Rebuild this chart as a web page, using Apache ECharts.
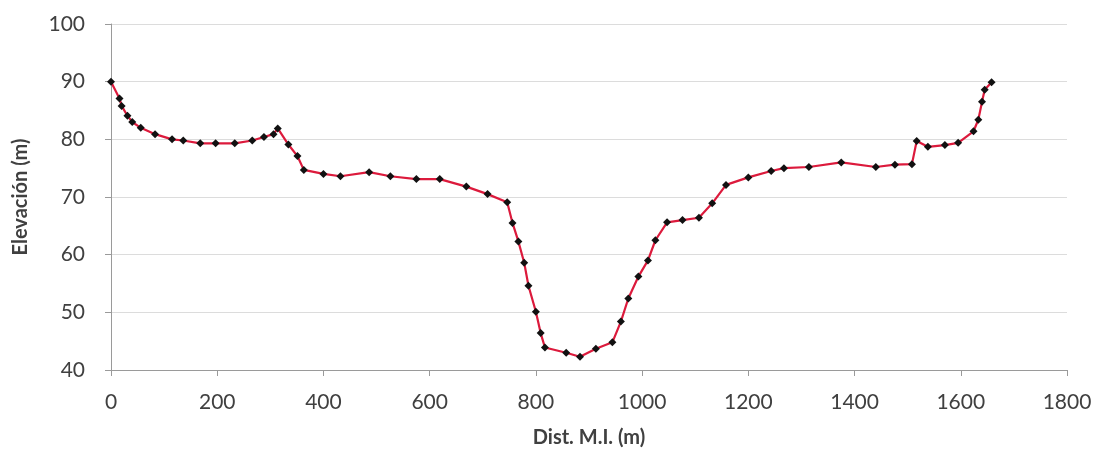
<!DOCTYPE html>
<html>
<head>
<meta charset="utf-8">
<script src="https://cdn.jsdelivr.net/npm/echarts@6/dist/echarts.min.js"></script>
<style>
  html, body { margin: 0; padding: 0; background: #fff; }
  #chart { width: 1100px; height: 457px; }
</style>
</head>
<body>
<div id="chart"></div>
<script>
// profile: distance (m) and elevation (m)
const dist = [0, 16, 20, 31, 40, 56, 83, 115, 136, 168, 197, 233, 266, 288, 306, 314, 334, 351, 363,
  400, 432, 486, 526, 575, 619, 669, 709, 746, 756, 767, 778, 786, 800, 809, 817, 857, 883, 913, 944,
  960, 974, 993, 1011, 1025, 1047, 1076, 1107, 1132, 1158, 1200, 1243, 1267, 1314, 1375, 1440, 1476,
  1508, 1517, 1538, 1570, 1595, 1624, 1633, 1640, 1645, 1658];
const elev = [90, 87.1, 85.8, 84.1, 83.0, 82.0, 80.9, 80.0, 79.8, 79.3, 79.3, 79.3, 79.8, 80.4, 80.9, 81.9, 79.1, 77.1, 74.7,
  74.0, 73.6, 74.3, 73.6, 73.1, 73.1, 71.8, 70.5, 69.1, 65.5, 62.3, 58.6, 54.6, 50.1, 46.4, 43.9, 43.0, 42.3, 43.7, 44.8,
  48.4, 52.4, 56.2, 59.0, 62.5, 65.6, 66.0, 66.4, 68.9, 72.1, 73.4, 74.5, 75.0, 75.2, 76.0, 75.2, 75.6,
  75.7, 79.7, 78.7, 79.0, 79.4, 81.4, 83.4, 86.5, 88.6, 89.9];

const xTicks = [0, 1800, 200];   // min, max, step
const yTicks = [40, 100, 10];

const font = 'Lato, "Open Sans", sans-serif';

const chart = echarts.init(document.getElementById('chart'));
chart.setOption({
  animation: false,
  grid: { left: 111, right: 33, top: 24, bottom: 87 },
  xAxis: {
    type: 'value',
    min: xTicks[0], max: xTicks[1], interval: xTicks[2],
    name: 'Dist. M.I. (m)',
    nameLocation: 'middle',
    nameGap: 58,
    nameTextStyle: { fontFamily: font, fontSize: 20, fontWeight: 'bold', color: '#404040' },
    axisLine: { lineStyle: { color: '#9a9a9a', width: 1 } },
    axisTick: { show: true, inside: false, length: 6, lineStyle: { color: '#9a9a9a' } },
    axisLabel: { fontFamily: font, fontSize: 21, color: '#404040', margin: 22,
      formatter: v => String(v) },
    splitLine: { show: false }
  },
  yAxis: {
    type: 'value',
    min: yTicks[0], max: yTicks[1], interval: yTicks[2],
    name: 'Elevación (m)',
    nameLocation: 'middle',
    nameRotate: 90,
    nameGap: 80,
    nameTextStyle: { fontFamily: font, fontSize: 20, fontWeight: 'bold', color: '#404040' },
    axisLine: { show: true, lineStyle: { color: '#9a9a9a', width: 1 } },
    axisTick: { show: true, inside: false, length: 6, lineStyle: { color: '#9a9a9a' } },
    axisLabel: { fontFamily: font, fontSize: 21, color: '#404040', margin: 26 },
    splitLine: { show: true, lineStyle: { color: '#dcdcdc', width: 1 } }
  },
  series: [{
    type: 'line',
    data: dist.map((d, i) => [d, elev[i]]),
    symbol: 'diamond',
    symbolSize: 8,
    itemStyle: { color: '#111' },
    lineStyle: { color: '#dc1a3c', width: 2.2 },
    z: 3
  }]
});
</script>
</body>
</html>
